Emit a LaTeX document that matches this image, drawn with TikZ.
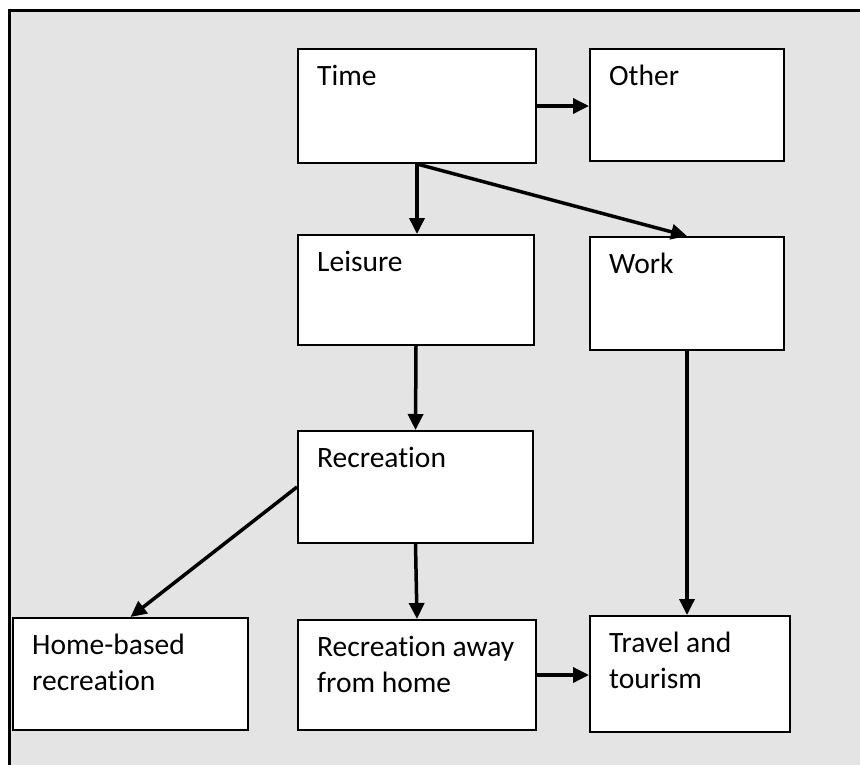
\documentclass[tikz,border=0pt]{standalone}
\usepackage{fontspec}
\setmainfont{Carlito}[Ligatures=NoCommon]
\usetikzlibrary{arrows.meta,calc}
\definecolor{bggray}{RGB}{228,228,228}
\tikzset{
  box/.style={draw=black, fill=white, line width=2pt, inner sep=0pt, anchor=north west},
  lbl/.style={anchor=north west, inner sep=0pt, align=left, font=\fontsize{29.5}{36}\selectfont},
  arr/.style={line width=3.5pt, -{Triangle[length=16pt,width=15pt]}}
}
\begin{document}
\begin{tikzpicture}[x=1pt,y=-1pt]
\clip (0,0) rectangle (860,764);
\draw[line width=3pt, fill=bggray] (9.5,10.5) rectangle (900,800);
% boxes
\node[box, minimum width=238pt, minimum height=114pt] (time) at (297,48) {};
\node[box, minimum width=194pt, minimum height=112pt] (other) at (589,48) {};
\node[box, minimum width=236pt, minimum height=110pt] (leisure) at (297,234) {};
\node[box, minimum width=194pt, minimum height=113pt] (work) at (589,236) {};
\node[box, minimum width=235pt, minimum height=112pt] (recr) at (297,430) {};
\node[box, minimum width=235pt, minimum height=112pt] (home) at (12,617) {};
\node[box, minimum width=238pt, minimum height=110pt] (away) at (297,619) {};
\node[box, minimum width=200pt, minimum height=116pt] (travel) at (589,615) {};
% labels
\node[lbl] (timeT) at ($(time.north west)+(20,12.3)$) {\strut Time};
\node[lbl] (otherT) at ($(other.north west)+(20,12.3)$) {\strut Other};
\node[lbl] (leisureT) at ($(leisure.north west)+(20,12.3)$) {\strut Leisure};
\node[lbl] (workT) at ($(work.north west)+(20,12.3)$) {\strut Work};
\node[lbl] (recrT) at ($(recr.north west)+(20,12.3)$) {\strut Recreation};
\node[lbl] (homeT) at ($(home.north west)+(20,12.3)$) {\strut Home-based\\recreation};
\node[lbl] (awayT) at ($(away.north west)+(20,12.3)$) {\strut Recreation away\\from home};
\node[lbl] (travelT) at ($(travel.north west)+(20,12.3)$) {\strut Travel and\\tourism};
% arrows
\draw[arr] (time.east) -- (time.east -| other.west);
\draw[arr] (time.south) -- (time.south |- leisure.north);
\draw[arr] (time.south) -- (work.north);
\draw[arr] (leisure.south) -- (recr.north);
\draw[arr] (recr.west) -- (home.north);
\draw[arr] (recr.south) -- (away.north);
\draw[arr] (work.south) -- (work.south |- travel.north);
\draw[arr] (away.east) -- (away.east -| travel.west);
\end{tikzpicture}
\end{document}
